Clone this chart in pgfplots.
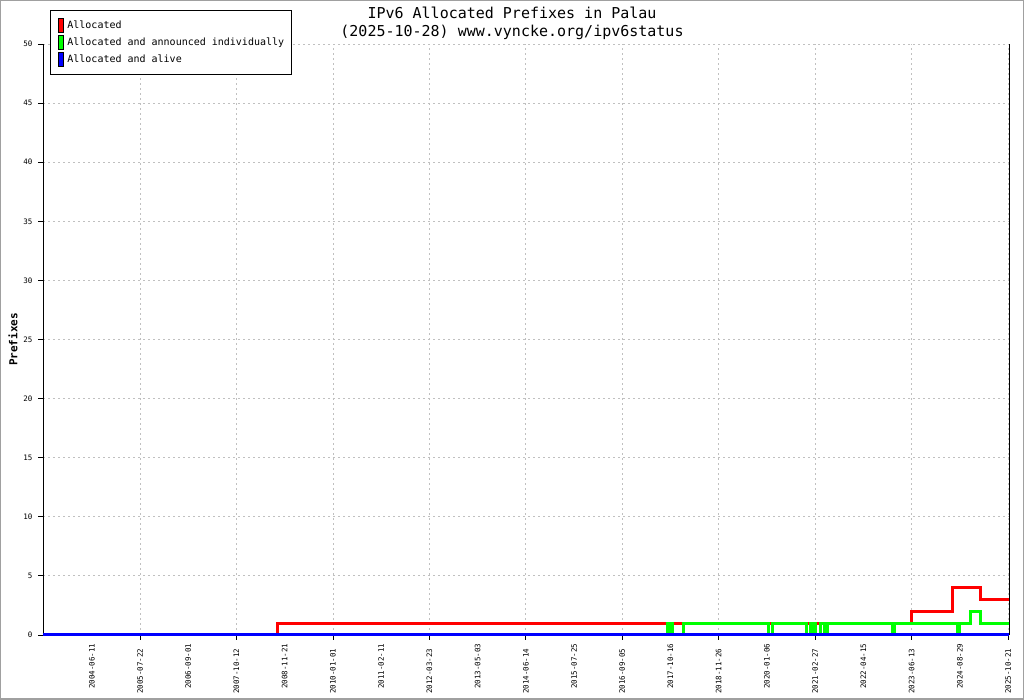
\documentclass[border=0pt]{standalone}
\usepackage{fontspec}
\setmainfont{DejaVu Sans Mono}
\usepackage{pgfplots}
\pgfplotsset{compat=1.18}
\definecolor{gridgray}{HTML}{C0C0C0}
\definecolor{framegray}{HTML}{A0A0A0}
\begin{document}
\begin{tikzpicture}
\begin{axis}[
  scale only axis, width=966pt, height=591pt,
  xmin=-1.012, xmax=19.02, ymin=0, ymax=50,
  axis x line*=bottom, axis y line*=left,
  axis line style={-, black, line width=0.8pt},
  clip=false,
  tick align=outside,
  major tick length=5pt,
  tick style={black, line width=0.8pt},
  /pgf/number format/assume math mode=true,
  ytick={0,5,...,50},
  yticklabel style={font=\fontsize{7.5}{9}\selectfont, xshift=-2pt},
  xtick={1,3,...,19},
  xticklabels={2005-07-22,2007-10-12,2010-01-01,2012-03-23,2014-06-14,2016-09-05,2018-11-26,2021-02-27,2023-06-13,2025-10-21},
  extra x ticks={0,2,...,18},
  extra x tick labels={2004-06-11,2006-09-01,2008-11-21,2011-02-11,2013-05-03,2015-07-25,2017-10-16,2020-01-06,2022-04-15,2024-08-29},
  extra x tick style={grid=none, major tick length=0pt},
  xticklabel style={yshift=-5pt, rotate=90, anchor=east, font=\fontsize{7.5}{8}\selectfont},
  xmajorgrids, ymajorgrids,
  grid style={gridgray, line width=0.8pt, dash pattern=on 2pt off 3pt},
  ylabel={\bfseries Prefixes},
  every axis y label/.style={at={(rel axis cs:0,0.5)}, xshift=-30pt, rotate=90, anchor=center, font=\fontsize{11}{12}\selectfont},
  title={IPv6 Allocated Prefixes in Palau\\(2025-10-28) www.vyncke.org/ipv6status},
  title style={at={(rel axis cs:0.4855,1)}, anchor=south, align=center, font=\fontsize{15}{18}\selectfont, yshift=-5pt},
  legend style={at={(rel axis cs:0,1)}, anchor=north west, xshift=7pt, yshift=34pt, draw=black, line width=0.8pt, font=\fontsize{10}{12}\selectfont, row sep=2pt, inner xsep=5pt, inner ysep=8pt},
  legend cell align=left,
]
\addplot[const plot, red, line width=3pt,
  legend image code/.code={\path (0pt,0pt) (7pt,0pt); \draw[black, fill=red, line width=0.8pt] (1.5pt,-7pt) rectangle (6.5pt,7pt);}]
  coordinates {(-1.012,0) (3.861,1) (16.989,2) (17.858,4) (18.439,3) (19.02,3)};
\addlegendentry{Allocated}
\addplot[const plot, green, line width=3pt,
  legend image code/.code={\path (0pt,0pt) (7pt,0pt); \draw[black, fill=green, line width=0.8pt] (1.5pt,-7pt) rectangle (6.5pt,7pt);}]
  coordinates {(-1.012,0) (11.929,1) (11.98,0) (12.0,1) (12.032,0) (12.26,1) (14.04,0) (14.106,1) (14.811,0) (14.894,1) (14.935,0) (14.977,1) (14.998,0) (15.101,1) (15.184,0) (15.246,1) (16.594,0) (16.635,1) (17.942,0) (17.983,1) (18.211,2) (18.429,1) (19.02,1)};
\addlegendentry{Allocated and announced individually}
\addplot[const plot, blue, line width=3pt,
  legend image code/.code={\path (0pt,0pt) (7pt,0pt); \draw[black, fill=blue, line width=0.8pt] (1.5pt,-7pt) rectangle (6.5pt,7pt);}]
  coordinates {(-1.012,0) (19.02,0)};
\addlegendentry{Allocated and alive}
\draw[black, line width=0.8pt] (rel axis cs:1,0) -- (rel axis cs:1,1);
\draw[framegray, line width=1.5pt] ([xshift=-42.25pt, yshift=-64.25pt]rel axis cs:0,0) rectangle ([xshift=14.25pt, yshift=43.25pt]rel axis cs:1,1);
\end{axis}
\end{tikzpicture}
\end{document}
